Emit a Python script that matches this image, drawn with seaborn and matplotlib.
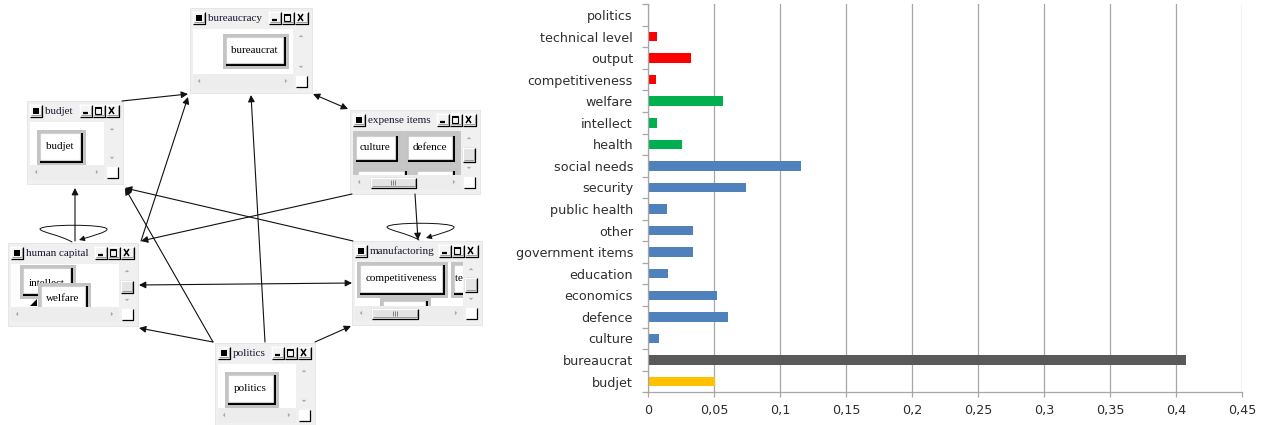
import numpy as np
import pandas as pd
import matplotlib
matplotlib.use("Agg")
import matplotlib.pyplot as plt
import seaborn as sns
from matplotlib.patches import Rectangle, FancyArrowPatch, Polygon
from matplotlib.path import Path

# ---------------- data ----------------
categories = ["politics", "technical level", "output", "competitiveness",
              "welfare", "intellect", "health", "social needs", "security",
              "public health", "other", "government items", "education",
              "economics", "defence", "culture", "bureaucrat", "budjet"]
values = [0.0, 0.0071, 0.0323, 0.0058,
          0.0565, 0.0068, 0.0261, 0.1162, 0.0740,
          0.0146, 0.0343, 0.0343, 0.0152,
          0.0520, 0.0608, 0.0081, 0.4073, 0.0510]
groups = ["politics", "manufactoring", "manufactoring", "manufactoring",
          "human capital", "human capital", "human capital",
          "expense items", "expense items", "expense items", "expense items",
          "expense items", "expense items", "expense items", "expense items",
          "expense items", "bureaucracy", "budjet"]
group_colors = {"politics": "#FF0000", "manufactoring": "#FF0000",
                "human capital": "#00B050", "expense items": "#4F81BD",
                "bureaucracy": "#595959", "budjet": "#FFC000"}
x_ticks = [0, 0.05, 0.1, 0.15, 0.2, 0.25, 0.3, 0.35, 0.4, 0.45]
x_tick_labels = ["0", "0,05", "0,1", "0,15", "0,2", "0,25", "0,3", "0,35", "0,4", "0,45"]

W, H = 1265, 425
fig = plt.figure(figsize=(W / 100, H / 100), dpi=100)
fig.patch.set_facecolor("white")

# ---------------- diagram (left) ----------------
ax = fig.add_axes([0, 0, 500 / W, 1])
ax.set_xlim(0, 500)
ax.set_ylim(425, 0)
ax.axis("off")
SERIF = "Liberation Serif"


def R(x0, y0, x1, y1, fc, ec="none", lw=0.0, z=1, clip=None):
    p = Rectangle((x0, y0), x1 - x0, y1 - y0, facecolor=fc, edgecolor=ec,
                  linewidth=lw, zorder=z)
    ax.add_patch(p)
    if clip is not None:
        p.set_clip_path(clip)
    return p


def L(xs, ys, c="black", lw=0.75, z=1, clip=None):
    ln, = ax.plot(xs, ys, color=c, lw=lw, zorder=z, solid_capstyle="butt")
    if clip is not None:
        ln.set_clip_path(clip)
    return ln


def T(x, y, s, z, clip=None, ha="center", size=8, color="black"):
    t = ax.text(x, y, s, fontsize=size, family=SERIF, ha=ha, va="center",
                zorder=z, color=color)
    if clip is not None:
        t.set_clip_on(True)
        t.set_clip_path(clip)
    return t


def raised(x0, y0, x1, y1, z, fc="#F4F4F4", clip=None):
    R(x0, y0, x1, y1, fc, z=z, clip=clip)
    L([x0, x1], [y0 + 0.5, y0 + 0.5], "white", 0.75, z + 0.1, clip)
    L([x0 + 0.5, x0 + 0.5], [y0, y1], "white", 0.75, z + 0.1, clip)
    L([x0 + 0.5, x1 - 0.5, x1 - 0.5], [y1 - 0.5, y1 - 0.5, y0 + 0.5], "black", 0.9, z + 0.2, clip)
    L([x0 + 1.5, x1 - 1.5, x1 - 1.5], [y1 - 1.6, y1 - 1.6, y0 + 1.5], "#9A9A9A", 0.7, z + 0.2, clip)


def button3d(x0, y0, x1, y1, text, z, clip=None, dy=0.0):
    R(x0, y0, x1, y1, "#C4C4C4", z=z, clip=clip)
    R(x0 + 3, y0 + 3, x1 - 3, y1 - 3, "black", z=z + 0.1, clip=clip)
    R(x0 + 3, y0 + 3, x1 - 6, y1 - 6, "white", ec="#D0D0D0", lw=0.8, z=z + 0.2, clip=clip)
    if text:
        T((x0 + x1 - 3) / 2, (y0 + y1 - 3) / 2 + dy, text, z + 0.3, clip)


def tri(cx, cy, d, z, s=2.2, c="#A8A8A8"):
    if d == "up":
        pts = [(cx - s, cy + s / 2), (cx + s, cy + s / 2), (cx, cy - s / 2)]
    elif d == "down":
        pts = [(cx - s, cy - s / 2), (cx + s, cy - s / 2), (cx, cy + s / 2)]
    elif d == "left":
        pts = [(cx + s / 2, cy - s), (cx + s / 2, cy + s), (cx - s / 2, cy)]
    else:
        pts = [(cx - s / 2, cy - s), (cx - s / 2, cy + s), (cx + s / 2, cy)]
    ax.add_patch(Polygon(pts, closed=True, facecolor=c, edgecolor="none", zorder=z))


def window(x0, y0, x1, y1, title, z, content_bg="white", vthumb=None, hthumb=None):
    R(x0, y0, x1, y1, "#F0F0F0", ec="#E3E3E3", lw=0.6, z=z)
    # title bar
    raised(x0 + 2, y0 + 3, x0 + 15, y0 + 16, z + 1)
    R(x0 + 6, y0 + 7, x0 + 11.5, y0 + 12.5, "black", z=z + 1.5)
    T(x0 + 18, y0 + 10, title, z + 1, ha="left", size=8, color="#15152e")
    for bx0, bx1, kind in [(x1 - 44, x1 - 31, "min"), (x1 - 31, x1 - 18, "max"),
                           (x1 - 18, x1 - 4, "close")]:
        raised(bx0, y0 + 3, bx1, y0 + 16, z + 1)
        if kind == "min":
            L([bx0 + 4, bx0 + 9], [y0 + 12, y0 + 12], "black", 1.6, z + 1.5)
        elif kind == "max":
            R(bx0 + 3, y0 + 6, bx1 - 4, y0 + 13, "none", ec="black", lw=0.8, z=z + 1.5)
            L([bx0 + 3, bx1 - 4], [y0 + 6.5, y0 + 6.5], "black", 1.4, z + 1.5)
        else:
            L([bx0 + 4, bx1 - 5], [y0 + 6, y0 + 13], "black", 1.1, z + 1.5)
            L([bx0 + 4, bx1 - 5], [y0 + 13, y0 + 6], "black", 1.1, z + 1.5)
    content = R(x0 + 3, y0 + 21, x1 - 19, y1 - 19, content_bg, z=z + 1)
    # vertical scrollbar
    R(x1 - 19, y0 + 21, x1 - 3, y1 - 19, "#F0F0F0", z=z + 1)
    tri(x1 - 11, y0 + 28, "up", z + 2)
    tri(x1 - 11, y1 - 26, "down", z + 2)
    if vthumb is not None:
        raised(x1 - 18, vthumb[0], x1 - 5, vthumb[1], z + 2, fc="#E4E4E4")
    # horizontal scrollbar
    R(x0 + 3, y1 - 19, x1 - 19, y1 - 4, "#EDEDED", z=z + 1)
    tri(x0 + 9, y1 - 12, "left", z + 2)
    tri(x1 - 26, y1 - 12, "right", z + 2)
    if hthumb is not None:
        raised(hthumb[0], y1 - 17, hthumb[1], y1 - 6, z + 2, fc="#E4E4E4")
        cx = (hthumb[0] + hthumb[1]) / 2
        for dx in (-2, 0, 2):
            L([cx + dx, cx + dx], [y1 - 14, y1 - 9], "#707070", 0.6, z + 2.5)
    # size grip corner
    R(x1 - 16, y1 - 17, x1 - 5, y1 - 6, "white", z=z + 2)
    L([x1 - 16, x1 - 5.5, x1 - 5.5], [y1 - 6.5, y1 - 6.5, y1 - 17], "black", 0.9, z + 2.2)
    return content


# windows
c = window(190, 8, 312, 93, "bureaucracy", 10)
button3d(223, 34, 289, 69, "bureaucrat", 12, c)

c = window(27, 101, 123, 184, "budjet", 20)
button3d(37, 130, 86, 166, "budjet", 22, c)

c = window(350, 110, 480, 194, "expense items", 30, content_bg="#C6C6C6",
           vthumb=(147, 162), hthumb=(370, 416))
button3d(353, 133, 401, 165, "culture", 32, c)
button3d(405, 133, 458, 165, "defence", 32, c)
button3d(461, 133, 510, 165, "", 32, c)
button3d(355, 168, 410, 200, "", 32, c)
button3d(414, 168, 458, 200, "", 32, c)

c = window(8, 243, 138, 326, "human capital", 40, vthumb=(280, 293))
button3d(20, 265, 76, 299, "intellect", 42, c, dy=2.5)
ax.add_patch(Polygon([(30, 306), (37, 306), (37, 299)], closed=True,
                     facecolor="black", zorder=42.5, clip_path=c))
button3d(38, 283, 91, 320, "welfare", 43, c, dy=-1.5)

c = window(352, 241, 482, 325, "manufactoring", 50, vthumb=(277, 292), hthumb=(371, 418))
button3d(357, 262, 448, 298, "competitiveness", 52, c)
button3d(451, 262, 527, 298, "technical level", 52, c)
button3d(380, 298, 431, 332, "", 52, c)

c = window(215, 343, 315, 427, "politics", 60)
button3d(225, 372, 279, 408, "politics", 62, c)


# arrows
def arrow(p0, p1, both=False):
    style = "<|-|>" if both else "-|>"
    a = FancyArrowPatch(p0, p1, arrowstyle=style, mutation_scale=10, lw=0.8,
                        color="#111111", shrinkA=0, shrinkB=0, zorder=100)
    ax.add_patch(a)


arrow((122, 101), (188, 94))
arrow((313, 94), (348, 109), both=True)
arrow((141, 241), (188, 97))
arrow((213, 342), (125, 188))
arrow((265, 342), (251, 95))
arrow((353, 241), (125, 188))
arrow((352, 194), (141, 241))
arrow((75, 241), (75, 188))
arrow((415, 194), (418, 240))
arrow((139, 285), (352, 283), both=True)
arrow((213, 342), (139, 328))
arrow((315, 342), (351, 326))


def loop(dx, dy):
    verts = [(72 + dx, 242 + dy),
             (60 + dx, 235 + dy), (40 + dx, 232 + dy), (40 + dx, 229 + dy),
             (42 + dx, 224 + dy), (105 + dx, 224 + dy), (107 + dx, 229 + dy),
             (108 + dx, 232 + dy), (92 + dx, 236 + dy), (79 + dx, 240 + dy)]
    codes = [Path.MOVETO] + [Path.CURVE4] * 9
    a = FancyArrowPatch(path=Path(verts, codes), arrowstyle="-|>", mutation_scale=8,
                        lw=0.7, color="#111111", zorder=100)
    ax.add_patch(a)


loop(0, 0)
loop(347, -2)

# ---------------- bar chart (right) ----------------
df = pd.DataFrame({"category": categories, "value": values, "group": groups})
axb = fig.add_axes([648 / W, (H - 392.3) / H, (1242 - 648) / W, (392.3 - 4.2) / H])
sns.barplot(data=df, y="category", x="value", hue="group", palette=group_colors,
            order=categories, width=0.44, dodge=False, legend=False,
            saturation=1, ax=axb)
axb.set_xlim(0, 0.45)
axb.set_ylim(len(categories) - 0.5, -0.5)
axb.set_xlabel("")
axb.set_ylabel("")
axb.set_facecolor("white")
axb.set_axisbelow(True)
axb.xaxis.grid(True, color="#A6A6A6", lw=0.9)
axb.yaxis.grid(False)
for s in ("top", "right"):
    axb.spines[s].set_visible(False)
for s in ("left", "bottom"):
    axb.spines[s].set_color("#A6A6A6")
    axb.spines[s].set_linewidth(0.9)
axb.set_xticks(x_ticks)
axb.set_xticklabels(x_tick_labels)
axb.set_yticks(range(len(categories)))
axb.set_yticklabels(categories)
axb.set_yticks(np.arange(-0.5, len(categories), 1.0), minor=True)
axb.tick_params(axis="y", which="major", length=0, pad=10.8, labelsize=9.2,
                labelcolor="#2e2e2e")
axb.tick_params(axis="y", which="minor", length=4, color="#A6A6A6", width=0.9)
axb.tick_params(axis="x", which="major", length=3.5, color="#A6A6A6", width=0.9,
                pad=5, labelsize=9.2, labelcolor="#2e2e2e")
for lab in axb.get_xticklabels() + axb.get_yticklabels():
    lab.set_family("DejaVu Sans")

fig.savefig("out.png", dpi=100, facecolor="white")
